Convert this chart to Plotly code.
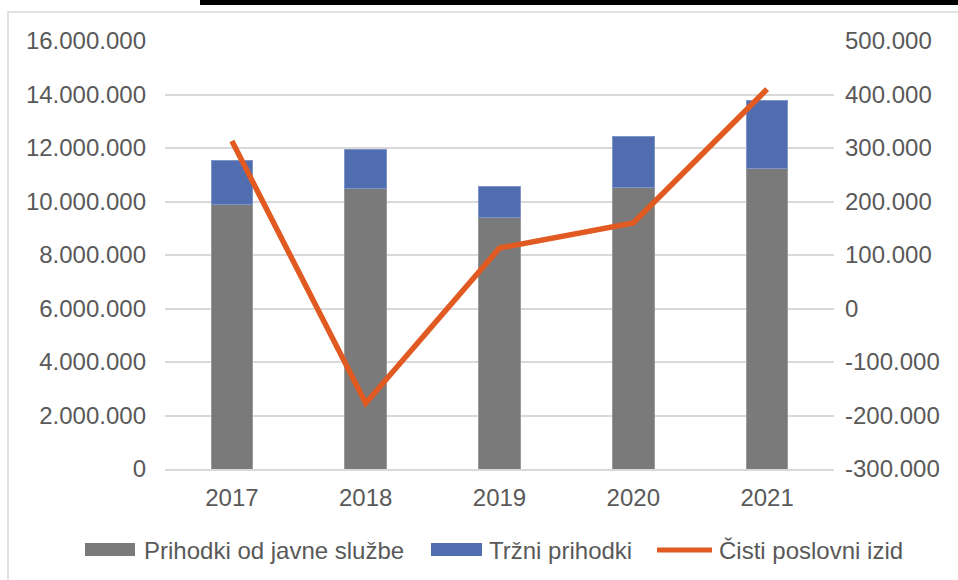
import plotly.graph_objects as go

years = ['2017', '2018', '2019', '2020', '2021']
javna_sluzba = [9900000, 10480000, 9400000, 10530000, 11240000]
trzni = [1650000, 1480000, 1150000, 1890000, 2540000]
poslovni_izid = [313000, -177000, 113000, 160000, 410000]

left_ticks = [0, 2000000, 4000000, 6000000, 8000000, 10000000, 12000000, 14000000, 16000000]
left_labels = ['0', '2.000.000', '4.000.000', '6.000.000', '8.000.000', '10.000.000',
               '12.000.000', '14.000.000', '16.000.000']
right_ticks = [-300000, -200000, -100000, 0, 100000, 200000, 300000, 400000, 500000]
right_labels = ['-300.000', '-200.000', '-100.000', '0', '100.000', '200.000',
                '300.000', '400.000', '500.000']

names = ['Prihodki od javne službe', 'Tržni prihodki', 'Čisti poslovni izid']
colors = ['#7a7a7a', '#506db0', '#e05a22']

W, H = 958, 580
L, R, T, B = 165, 124, 41, 111
text_color = '#595959'
font_family = 'Arial, Liberation Sans, sans-serif'


def px(x, y):
    # pixel position -> paper coordinates
    return (x - L) / (W - L - R), (H - B - y) / (H - T - B)


fig = go.Figure()
fig.add_trace(go.Bar(x=years, y=javna_sluzba, name=names[0], marker_color=colors[0],
                     marker_line=dict(color='#9a9a9a', width=1), width=0.31))
fig.add_trace(go.Bar(x=years, y=trzni, name=names[1], marker_color=colors[1],
                     marker_line=dict(color='#7f95c8', width=1), width=0.31))
fig.add_trace(go.Scatter(x=years, y=poslovni_izid, name=names[2], mode='lines', yaxis='y2',
                         line=dict(color=colors[2], width=5.5)))

shapes = []
annotations = []

# outer frame and black bar on top
x0, y0 = px(8, 12)
x1, y1 = px(W + 5, H + 5)
shapes.append(dict(type='rect', xref='paper', yref='paper', x0=x0, y0=y0, x1=x1, y1=y1,
                   line=dict(color='#d9d9d9', width=1.5), fillcolor='rgba(0,0,0,0)', layer='below'))
x0, y0 = px(200, 0)
x1, y1 = px(W + 5, 5)
shapes.append(dict(type='rect', xref='paper', yref='paper', x0=x0, y0=y0, x1=x1, y1=y1,
                   line=dict(width=0), fillcolor='black'))

# legend drawn by hand (Excel-like wide swatches)
legend_items = [(85, 135, 142, 'rect'), (431, 482, 487, 'rect'), (657, 712, 717, 'line')]
for (sx0, sx1, tx, kind), name, c in zip(legend_items, names, colors):
    if kind == 'rect':
        a0, b0 = px(sx0, 543)
        a1, b1 = px(sx1, 556)
        shapes.append(dict(type='rect', xref='paper', yref='paper', x0=a0, y0=b0, x1=a1, y1=b1,
                           line=dict(width=0), fillcolor=c))
    else:
        a0, b0 = px(sx0, 550)
        a1, b1 = px(sx1, 550)
        shapes.append(dict(type='line', xref='paper', yref='paper', x0=a0, y0=b0, x1=a1, y1=b1,
                           line=dict(color=c, width=5)))
    ax, ay = px(tx, 550)
    annotations.append(dict(text=name, xref='paper', yref='paper', x=ax, y=ay, xanchor='left',
                            yanchor='middle', showarrow=False,
                            font=dict(size=24, color=text_color, family=font_family)))

fig.update_layout(
    width=W, height=H,
    margin=dict(l=L, r=R, t=T, b=B),
    barmode='stack',
    plot_bgcolor='white', paper_bgcolor='white',
    showlegend=False,
    font=dict(family=font_family, size=24, color=text_color),
    shapes=shapes,
    annotations=annotations,
    xaxis=dict(showgrid=False, showline=True, linecolor='#d9d9d9', linewidth=1.5,
               ticks='', ticklabelstandoff=6),
    yaxis=dict(range=[0, 16000000], tickvals=left_ticks, ticktext=left_labels,
               showgrid=True, gridcolor='#d9d9d9', gridwidth=1.5, zeroline=False,
               ticks='', ticklabelstandoff=18),
    yaxis2=dict(range=[-300000, 500000], tickvals=right_ticks, ticktext=right_labels,
                overlaying='y', side='right', showgrid=False, zeroline=False,
                ticks='', ticklabelstandoff=10),
)

fig.write_html("out.html", config={'displayModeBar': False},
               post_script="document.body.style.margin='0';")
